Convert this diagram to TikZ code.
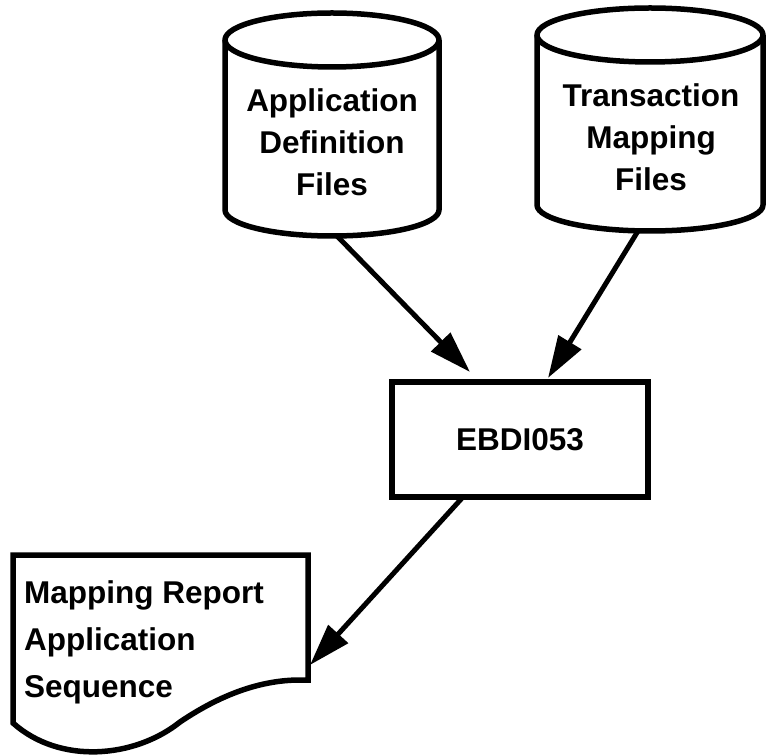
\documentclass[tikz,border=0pt]{standalone}
\usepackage{fontspec}
\setmainfont{Liberation Sans}
\usetikzlibrary{arrows.meta}
\begin{document}
\begin{tikzpicture}[x=1pt,y=1pt,
  shapeline/.style={line width=5.5pt, line join=round},
  lbl/.style={font=\bfseries\fontsize{31.5}{42}\selectfont, align=center, inner sep=0pt},
  doclbl/.style={font=\bfseries\fontsize{31.5}{47}\selectfont, align=left, inner sep=0pt, anchor=west},
  arr/.style={line width=5pt, -{Triangle[length=42pt,width=26pt]}},
  procbox/.style={draw, line width=5.5pt, minimum width=256pt, minimum height=115pt, inner sep=0pt, outer sep=0pt, font=\bfseries\fontsize{31.5}{42}\selectfont}]
\useasboundingbox (0,0) rectangle (767,755);
% cylinder 1
\draw[shapeline] (332,715) ellipse [x radius=107pt, y radius=27pt];
\draw[shapeline] (225,715) -- (225,545) arc[start angle=180,end angle=360,x radius=107pt,y radius=26pt] -- (439,715);
\node[lbl] (adf) at (332,612.5) {Application\\Definition\\Files};
\coordinate (c1b) at (337,519);
% cylinder 2
\draw[shapeline] (650,720) ellipse [x radius=113pt, y radius=27pt];
\draw[shapeline] (537,720) -- (537,550) arc[start angle=180,end angle=360,x radius=113pt,y radius=26pt] -- (763,720);
\node[lbl] (tmf) at (651,617.5) {Transaction\\Mapping\\Files};
\coordinate (c2b) at (638,524);
% process box
\node[procbox] (ebdi) at (520,315.5) {EBDI053};
% document
\draw[line width=5.5pt, line join=miter] (300,75) -- (308,75) -- (308,200) -- (13,200) -- (13,32)
  .. controls (60,-10) and (135,-3) .. (180,33)
  .. controls (220,60) and (260,75) .. (300,75) -- cycle;
\node[doclbl] (doc) at (24,113) {Mapping Report\\Application\\Sequence};
\coordinate (docR) at (310,90);
% connectors
\draw[arr] (c1b) -- ([xshift=-50pt,yshift=10pt]ebdi.north);
\draw[arr] (c2b) -- ([xshift=28pt,yshift=4pt]ebdi.north);
\draw[arr] ([xshift=-57pt]ebdi.south) -- (docR);
\end{tikzpicture}
\end{document}
